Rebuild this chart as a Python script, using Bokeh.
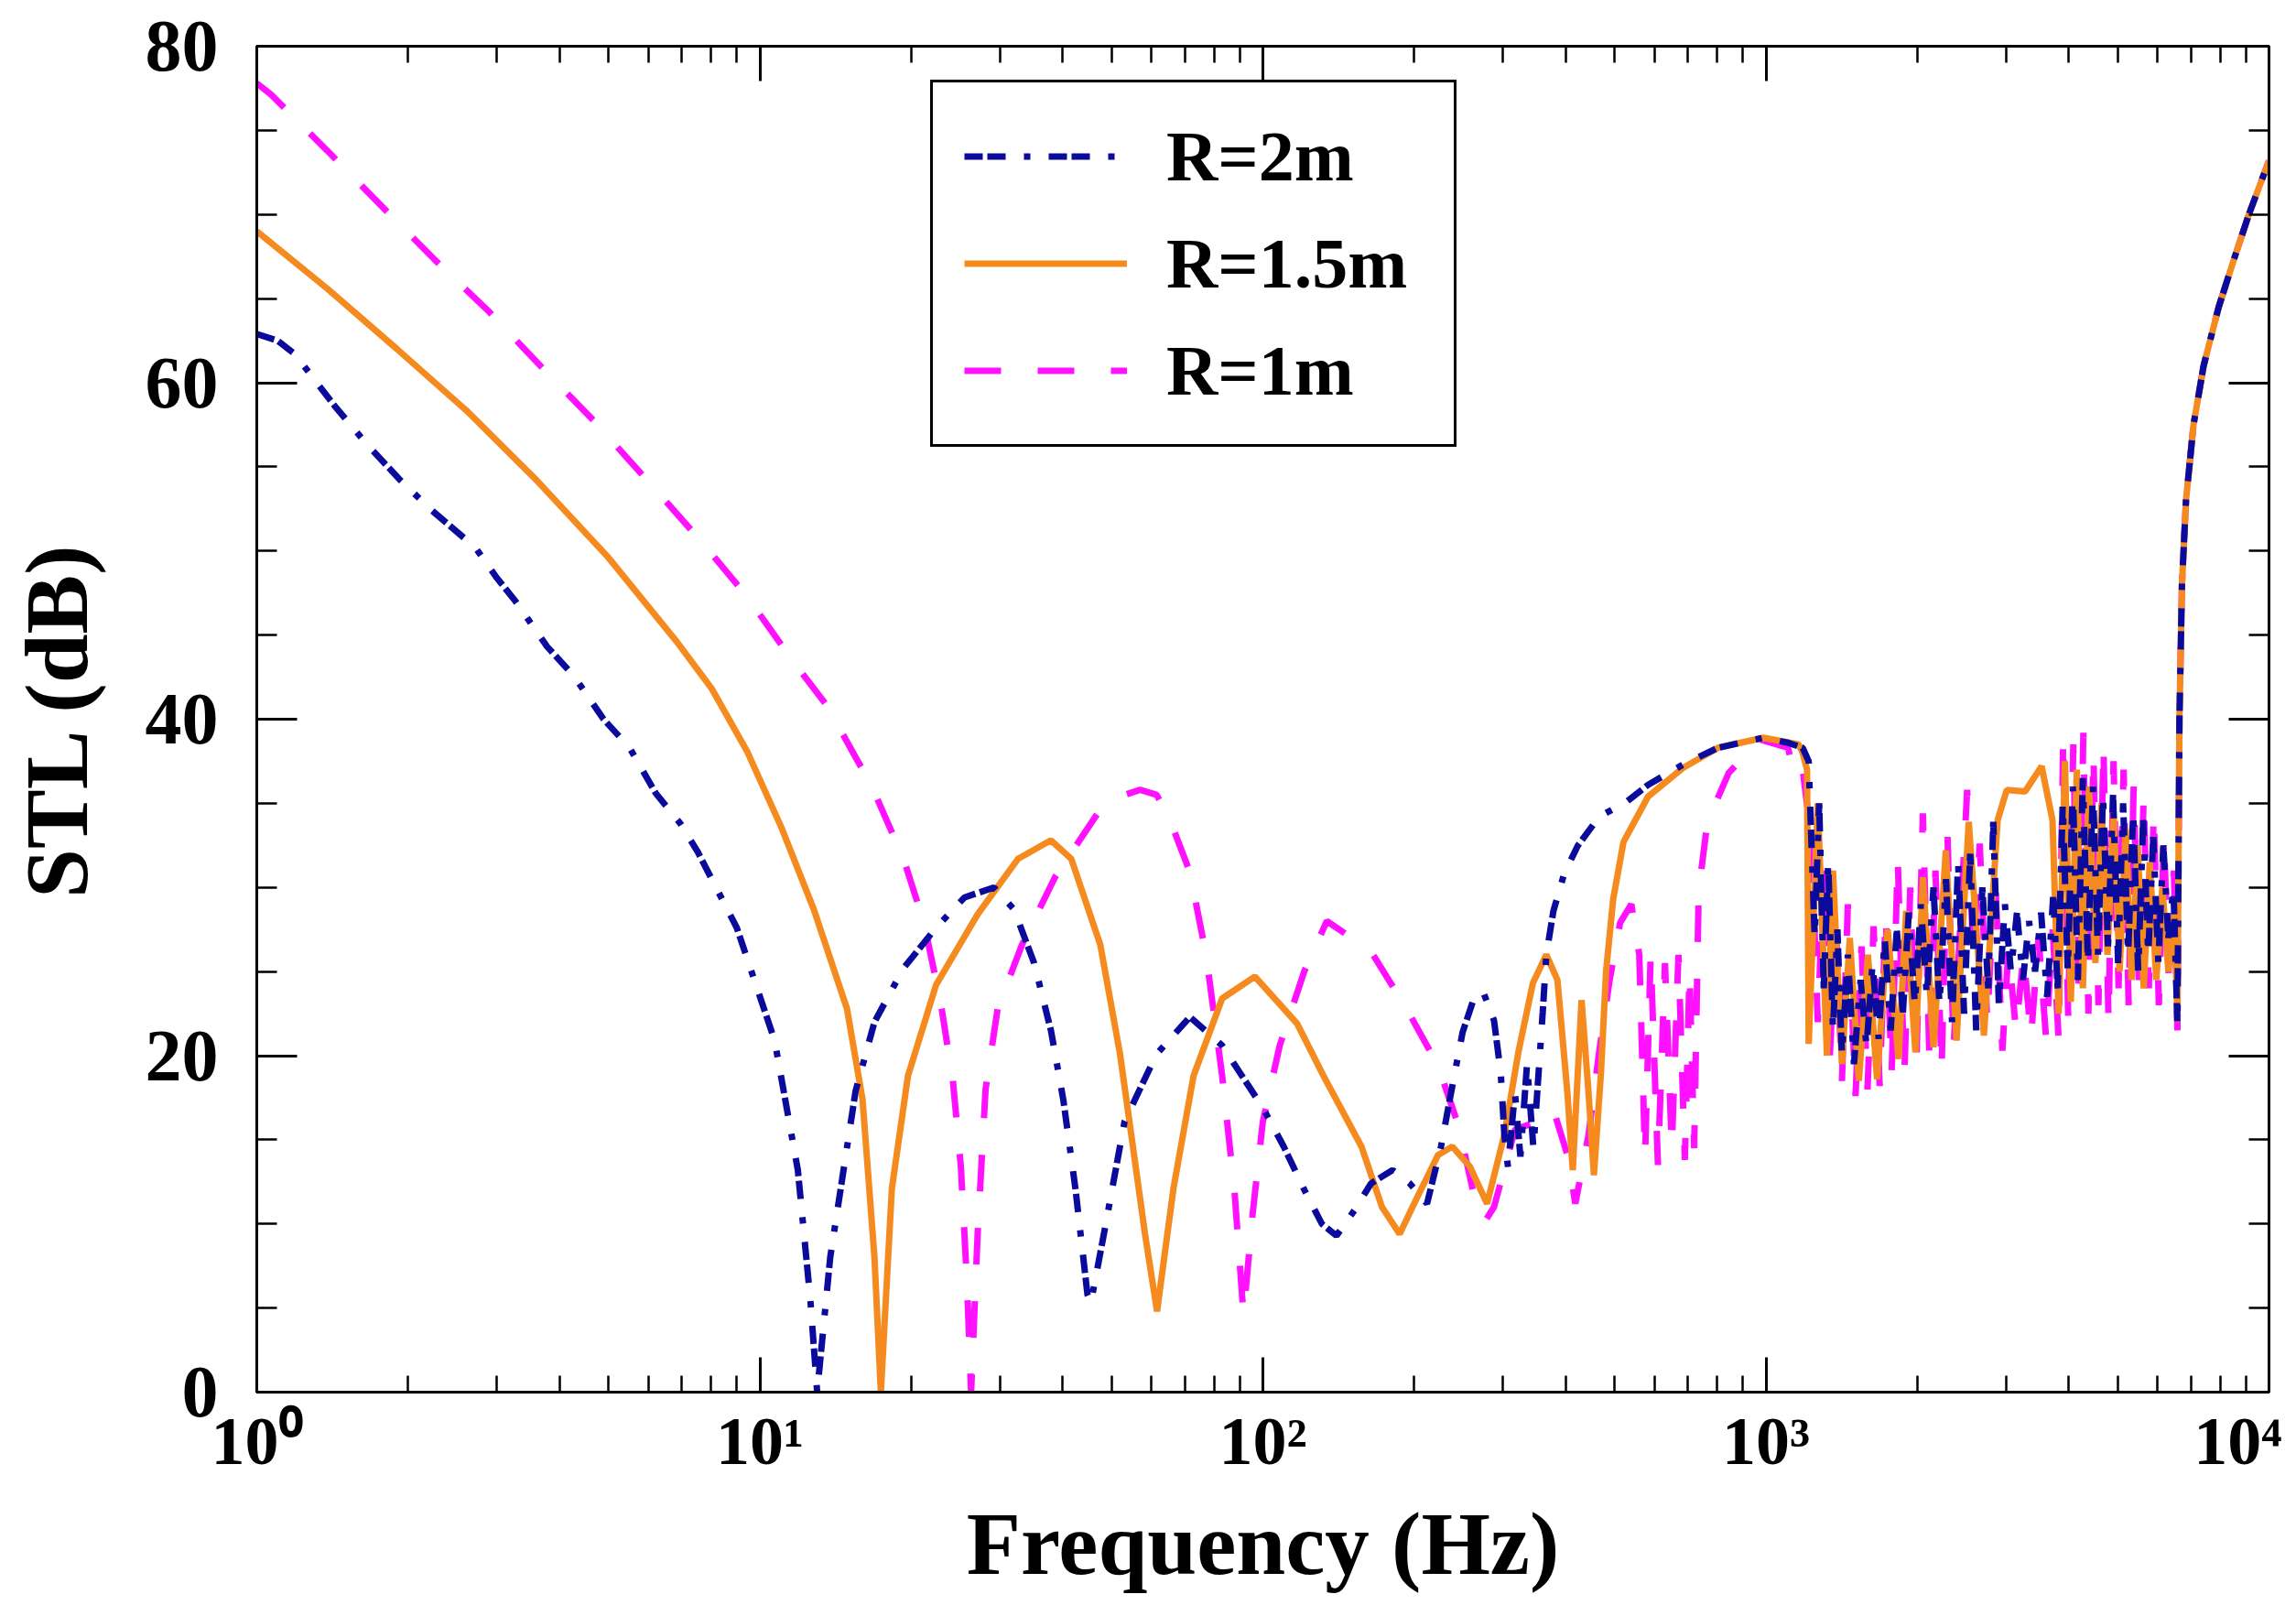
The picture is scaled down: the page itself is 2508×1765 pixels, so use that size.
"""STL vs frequency for three radii."""
from bokeh.embed import file_html
from bokeh.models import (FixedTicker, Legend, LegendItem, LinearAxis, LogAxis,
                          SingleIntervalTicker)
from bokeh.plotting import figure
from bokeh.resources import INLINE

FONT = "Liberation Serif"

# axis ticks
freq_ticks = [1, 10, 100, 1000, 10000]
freq_tick_labels = ["10⁰", "10¹", "10²", "10³", "10⁴"]
freq_minor = [m * 10 ** e for e in range(4) for m in range(2, 10)]

series_labels = ["R=2m", "R=1.5m", "R=1m"]
series_colors = ["#0a0a9c", "#f58a1f", "#ff10ff"]

# R = 2 m (dash-dot)
f_r2 = [1, 1.10, 1.19, 1.43, 1.66, 1.93, 2.23, 2.72, 3.0, 3.27, 3.78, 4.26, 4.89,
        5.51, 6.21, 6.95, 7.53, 9.0, 10.7, 11.9, 12.6, 13.0,
        13.8, 15.5, 16.9, 19.3, 22.4, 25.5, 29.2, 32.0, 35.1, 37.9, 40.1, 42.4,
        44.8, 45.5, 48.3, 53.1, 61.5, 71.6, 83.0, 100, 110, 121, 131, 140, 152,
        164, 181, 196, 212, 226, 238, 249.5, 262, 274, 288, 297, 302, 307, 317,
        325, 335, 345, 360, 366, 378, 397, 423, 466, 529, 583, 684, 803, 988,
        1106, 1183, 1216, 1250, 1276, 1303, 1330, 1359, 1387, 1416, 1455, 1496,
        1542, 1585, 1629, 1675, 1722, 1770, 1820, 1871, 1923, 1977, 2032, 2089,
        2153, 2213, 2280, 2344, 2410, 2477, 2547, 2618, 2692, 2767, 2831, 2904,
        2985, 3069, 3155, 3243, 3334, 3428, 3524, 3622, 3724, 3802, 3890, 3981,
        4074, 4169, 4266, 4365, 4467, 4571, 4677, 4786, 4898, 5012, 5129, 5248,
        5370, 5495, 5623, 5754, 5888, 6026, 6166, 6310, 6457, 6577, 6637, 6714,
        6839, 7079, 7413, 7943, 8511, 9120, 10000]
stl_r2 = [62.9, 62.5, 61.7, 58.6, 56.3, 54.2, 52.4, 50.2, 48.4, 47.0, 44.3, 42.6, 40.0,
          38.3, 35.6, 33.8, 32.1, 27.6, 20.9, 13.2, 5.5, 0.0,
          8.0, 17.9, 22.0, 25.2, 27.6, 29.4, 30.0, 28.7, 25.5, 21.5, 17.4, 12.1,
          5.8, 5.3, 9.4, 16.1, 20.1, 22.3, 20.6, 16.9, 14.6, 12.0, 10.0, 9.3, 10.8,
          12.4, 13.2, 12.4, 11.2, 14.6, 18.2, 21.4, 23.3, 23.8, 22.1, 19.0, 15.3, 13.4, 17.8,
          14.0, 19.5, 14.5, 22.6, 26.0, 28.6, 30.8, 32.5, 34.2, 35.1, 36.1, 37.3, 38.3, 38.9,
          38.6, 38.3, 37.5, 27.0, 35.0, 24.0, 31.5, 21.5, 27.5, 20.0, 26.0, 19.5,
          24.5, 20.5, 25.5, 21.0, 27.0, 21.5, 27.5, 22.5, 28.5, 23.0, 29.0, 23.5,
          30.0, 23.0, 30.5, 22.0, 31.5, 22.5, 32.0, 21.5, 30.0, 24.0, 33.9, 23.0,
          29.0, 25.0, 28.5, 24.5, 28.0, 25.0, 28.5, 23.5, 29.5, 24.0, 35.0, 25.0,
          36.0, 24.5, 36.5, 25.5, 36.0, 26.0, 35.5, 26.5, 35.5, 25.5, 35.0, 26.0,
          34.5, 25.0, 34.0, 26.0, 33.0, 25.5, 32.5, 27.0, 30.0, 21.8, 40.0, 48.0,
          53.0, 57.5, 61.0, 64.5, 67.3, 70.0, 73.2]

# R = 1.5 m (solid)
f_r15 = [1, 1.38, 1.90, 2.62, 3.60, 4.97, 6.84, 8.03, 9.43, 11.06, 12.8, 14.9, 16.0,
         16.9, 17.4, 18.3, 19.7, 22.4, 27.1, 32.6, 37.9, 41.6, 47.5, 52.0, 55.1, 58.3,
         61.6, 66.4, 72.8, 83.0, 96.4, 110, 117, 132, 157, 172.5, 187, 202, 223,
         238, 258, 279, 302, 322, 344, 366, 385, 403, 413, 430, 444, 455, 470,
         481, 497, 521, 583, 684, 803, 988, 1161, 1183, 1207, 1216, 1268, 1322,
         1359, 1416, 1468, 1530, 1595, 1663, 1746, 1835, 1900, 1982, 2052, 2153,
         2278, 2393, 2530, 2712, 2888, 3011, 3274, 3532, 3712, 3818, 3930, 4037,
         4150, 4266, 4385, 4518, 4645, 4775, 4909, 5047, 5188, 5333, 5483, 5636,
         5794, 5970, 6138, 6310, 6486, 6577, 6637, 6714, 6839, 7079, 7413, 7943,
         8511, 9120, 10000]
stl_r15 = [69.0, 65.6, 62.0, 58.3, 54.2, 49.7, 44.6, 41.8, 38.1, 33.5, 28.7, 22.8, 17.4,
           8.0, 0.0, 12.1, 18.8, 24.2, 28.4, 31.7, 32.8, 31.7, 26.6, 20.1, 14.7, 9.4,
           4.8, 12.1, 18.8, 23.4, 24.7, 22.8, 21.9, 18.8, 14.6, 11.0, 9.4, 11.5, 14.1,
           14.6, 13.4, 11.2, 15.3, 20.2, 24.3, 26.0, 24.5, 17.8, 13.2, 23.3, 17.8, 12.9, 19.0,
           25.0, 29.3, 32.7, 35.4, 37.1, 38.3, 38.9, 38.5, 38.0, 37.0, 20.7, 35.0, 20.0,
           31.0, 19.5, 27.0, 18.5, 26.0, 18.6, 27.5, 19.8, 28.6, 20.2, 30.6, 20.5,
           32.2, 20.9, 33.9, 21.2, 34.0, 35.8, 35.7, 37.2, 34.0, 22.5, 37.5, 23.2,
           37.0, 24.0, 36.0, 25.5, 35.0, 26.0, 34.5, 25.0, 33.5, 24.5, 32.5, 24.0,
           31.5, 24.5, 30.0, 25.0, 28.5, 22.0, 40.0, 48.0, 53.0, 57.5, 61.0, 64.5,
           67.3, 70.0, 73.2]

# R = 1 m (dashed)
f_r1 = [1, 1.07, 1.38, 1.77, 2.26, 2.90, 3.69, 4.69, 5.97, 7.53, 9.43, 11.6, 13.6, 16.7,
        19.3, 21.2, 22.9, 24.2, 25.1, 25.8, 26.3, 27.1, 28.1, 29.7, 33.2, 38.6,
        47.4, 53.1, 57, 61.5, 65.2, 71.6, 77.1, 83.0, 87.8, 91.5, 95.5, 100, 108,
        120.8, 134, 164, 193, 223, 245, 266, 277, 288, 317, 345, 378, 403, 418,
        444, 466, 489, 513, 540, 560, 575, 590, 610, 630, 650, 670, 690, 705, 720,
        735, 765, 843, 973, 1106, 1142, 1183, 1230, 1268, 1303, 1340, 1377, 1416,
        1455, 1507, 1549, 1592, 1637, 1683, 1730, 1778, 1828, 1884, 1936, 1991,
        2051, 2113, 2173, 2234, 2296, 2360, 2427, 2512, 2582, 2661, 2754, 2851,
        2951, 3034, 3141, 3251, 3365, 3483, 3606, 3715, 3818, 3899, 3990, 4083,
        4178, 4276, 4375, 4477, 4581, 4688, 4797, 4909, 5023, 5140, 5260, 5383,
        5508, 5636, 5768, 5902, 6039, 6180, 6324, 6471, 6577, 6637, 6714, 6839,
        7079, 7413, 7943, 8511, 9120, 10000]
stl_r1 = [77.8, 77.1, 73.8, 70.5, 67.3, 64.2, 60.9, 57.7, 54.2, 50.8, 47.3, 43.5, 40.8, 36.0,
          31.7, 27.9, 23.1, 18.5, 13.4, 6.6, 0.0, 9.4, 18.0, 22.8, 26.6, 30.6,
          34.6, 35.5, 35.8, 35.5, 34.1, 30.9, 26.0, 18.8, 12.0, 4.6, 10.7, 16.1, 20.6,
          25.0, 28.0, 26.2, 22.8, 19.4, 15.8, 11.0, 10.2, 11.0, 15.6, 16.0, 16.8, 14.1, 11.2,
          15.3, 20.2, 24.5, 27.9, 29.0, 26.0, 14.0, 26.0, 13.5, 25.5, 14.5, 26.0, 13.8, 25.0, 14.5,
          29.8, 33.9, 36.8, 38.8, 38.3, 36.6, 37.0, 33.0, 22.0, 31.0, 20.0, 28.0, 18.5,
          29.0, 17.6, 26.5, 18.0, 27.7, 18.2, 28.4, 19.0, 31.7, 18.8, 30.0, 19.5,
          34.4, 20.0, 31.0, 19.1, 33.0, 20.5, 27.0, 35.8, 26.0, 32.6, 22.0, 31.0,
          20.3, 26.3, 21.5, 26.0, 21.1, 27.0, 21.0, 27.5, 21.0, 39.0, 22.0, 38.5,
          23.5, 39.2, 22.5, 38.0, 23.0, 38.5, 22.0, 37.5, 24.0, 37.0, 23.0, 36.0,
          24.5, 35.5, 24.0, 34.5, 23.0, 33.0, 24.5, 31.0, 21.5, 40.0, 48.0, 53.0,
          57.5, 61.0, 64.5, 67.3, 70.0, 73.2]


def style_axis(ax, tick_in, minor_in, label_size, show_labels=True):
    """Boxed axis with inward ticks."""
    ax.axis_line_width = 3
    ax.axis_line_color = "black"
    ax.major_tick_in = tick_in
    ax.major_tick_out = 0
    ax.minor_tick_in = minor_in
    ax.minor_tick_out = 0
    ax.major_tick_line_width = 3
    ax.minor_tick_line_width = 2.5
    ax.major_tick_line_color = "black"
    ax.minor_tick_line_color = "black"
    ax.major_label_text_font = FONT
    ax.major_label_text_font_style = "bold"
    ax.major_label_text_font_size = label_size
    ax.major_label_text_color = "black" if show_labels else None
    ax.axis_label_text_font = FONT
    ax.axis_label_text_font_style = "bold"
    ax.axis_label_text_font_size = "97px"
    ax.axis_label_text_color = "black"


p = figure(
    width=2492,
    height=1749,
    x_axis_type="log",
    x_range=(1, 10000),
    y_range=(0, 80),
    output_backend="svg",
    toolbar_location=None,
    min_border_left=280,
    min_border_right=14,
    min_border_top=50,
    min_border_bottom=229,
    background_fill_color="white",
    border_fill_color="white",
)
p.grid.visible = False
p.outline_line_color = "black"
p.outline_line_width = 3

x_ticker = FixedTicker(ticks=freq_ticks, minor_ticks=freq_minor)
y_ticker = SingleIntervalTicker(interval=20, num_minor_ticks=4)

xax = p.xaxis[0]
xax.ticker = x_ticker
xax.major_label_overrides = dict(zip(freq_ticks, freq_tick_labels))
xax.major_label_standoff = 12
xax.axis_label = "Frequency (Hz)"
xax.axis_label_standoff = 15
style_axis(xax, 38, 18, "74px")

yax = p.yaxis[0]
yax.ticker = y_ticker
yax.major_label_standoff = 42
yax.axis_label = "STL (dB)"
yax.axis_label_standoff = 40
style_axis(yax, 44, 22, "80px")

top = LogAxis(ticker=x_ticker, major_label_standoff=0)
style_axis(top, 38, 18, "4px", show_labels=False)
p.add_layout(top, "above")
right = LinearAxis(ticker=y_ticker, major_label_standoff=0)
style_axis(right, 44, 22, "4px", show_labels=False)
p.add_layout(right, "right")

r1 = p.line(f_r1, stl_r1, line_color=series_colors[2], line_width=7,
            line_dash="40 40")
r15 = p.line(f_r15, stl_r15, line_color=series_colors[1], line_width=7)
r2 = p.line(f_r2, stl_r2, line_color=series_colors[0], line_width=7,
            line_dash="20 5 20 20 7 20")

legend = Legend(
    items=[
        LegendItem(label=series_labels[0], renderers=[r2]),
        LegendItem(label=series_labels[1], renderers=[r15]),
        LegendItem(label=series_labels[2], renderers=[r1]),
    ],
    location=(736, 1032),
    border_line_color="black",
    border_line_width=3,
    border_line_alpha=1,
    background_fill_color="white",
    background_fill_alpha=1,
    label_text_font=FONT,
    label_text_font_style="bold",
    label_text_font_size="78px",
    label_text_color="black",
    glyph_width=178,
    glyph_height=93,
    label_height=93,
    label_width=280,
    label_standoff=43,
    spacing=24,
    padding=34,
    margin=0,
)
p.add_layout(legend)

open("out.html", "w").write(file_html(p, INLINE))
